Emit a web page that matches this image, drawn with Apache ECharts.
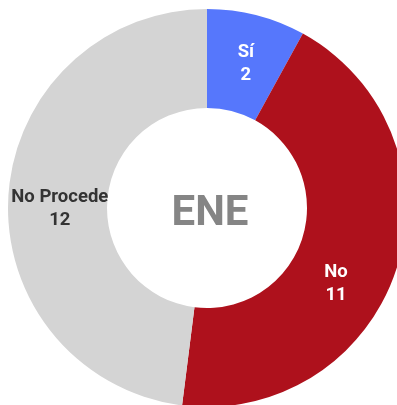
<!DOCTYPE html>
<html>
<head>
<meta charset="utf-8">
<script src="https://cdn.jsdelivr.net/npm/echarts@6/dist/echarts.min.js"></script>
<style>
  html, body { margin: 0; padding: 0; background: #fff; }
  #chart { width: 397px; height: 405px; }
</style>
</head>
<body>
<div id="chart"></div>
<script>
// Respuestas del mes
const categories = ['Sí', 'No', 'No Procede'];
const values = [2, 11, 12];
const colors = ['#5677FC', '#AE111C', '#D4D4D4'];
const labelColors = ['#ffffff', '#ffffff', '#333333'];
const labelOffsets = [[1, 4], [-16, 29], [5, 10]];
const centerTitle = 'ENE';

const chart = echarts.init(document.getElementById('chart'));

const data = categories.map((name, i) => ({
  name: name,
  value: values[i],
  itemStyle: { color: colors[i] },
  label: { color: labelColors[i], offset: labelOffsets[i] }
}));

chart.setOption({
  animation: false,
  title: {
    text: centerTitle,
    left: 205,
    top: 209,
    textAlign: 'center',
    textVerticalAlign: 'middle',
    textStyle: {
      fontFamily: 'Roboto, sans-serif',
      fontSize: 42,
      fontWeight: 'bold',
      color: '#858585'
    }
  },
  series: [{
    type: 'pie',
    center: [207, 208],
    radius: [100, 199],
    startAngle: 90,
    clockwise: true,
    avoidLabelOverlap: false,
    itemStyle: { borderWidth: 0 },
    label: {
      show: true,
      position: 'inside',
      formatter: '{b}\n{c}',
      fontFamily: 'Roboto, sans-serif',
      fontSize: 18.5,
      fontWeight: 'bold',
      lineHeight: 23
    },
    labelLine: { show: false },
    emphasis: { disabled: true },
    data: data
  }]
});
</script>
</body>
</html>
